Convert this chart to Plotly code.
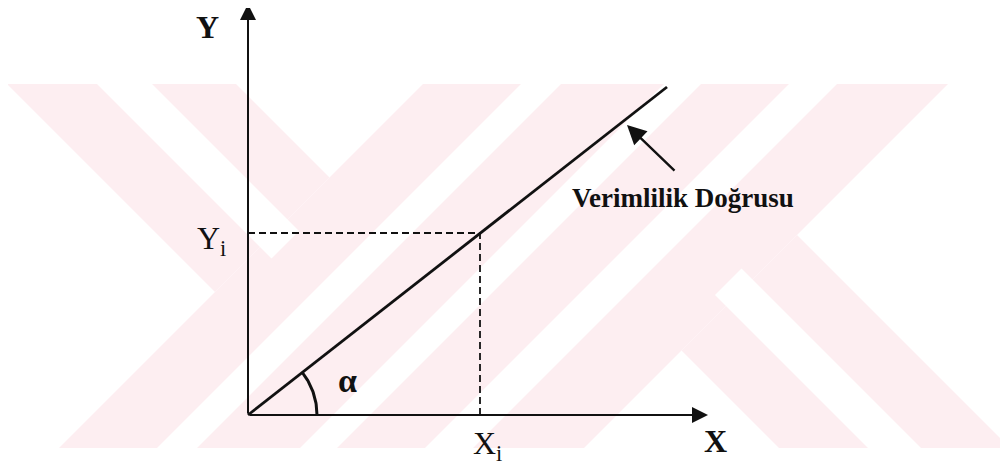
import math
import plotly.graph_objects as go

# ---- diagram values (conceptual units, origin of the axes at 0,0) ----
axis_x_end = 460          # length of the X axis arrow
axis_y_end = 411          # length of the Y axis arrow
line_x = [0, 419]         # productivity line
line_y = [0, 328]
x_i = 232                 # Xi on the X axis
y_i = 182                 # Yi on the Y axis
pointer_x = [428, 379]    # pointer arrow: tail -> head
pointer_y = [243, 290]
label_text = {"Y": "Y", "X": "X", "Yi": "Y<sub>i</sub>", "Xi": "X<sub>i</sub>",
              "alpha": "α", "line": "Verimlilik Doğrusu"}

# the page has an 8px body margin, so the figure starts at page pixel (8, 8)
PAGE_W, PAGE_H, BODY = 1008, 465, 8
W, H = PAGE_W - BODY, PAGE_H - BODY
OX, OY = 248, 415         # page pixel position of the origin


def to_data(px, py):
    return px - OX, OY - py


def path(points):
    pts = [to_data(px, py) for px, py in points]
    return "M " + " L ".join(f"{x:.1f},{y:.1f}" for x, y in pts) + " Z"


PINK = "#fdeef1"
WHITE = "#ffffff"
INK = "#111111"
shapes = []


def poly(points, color):
    shapes.append(dict(type="path", path=path(points), xref="x", yref="y",
                       fillcolor=color, line=dict(width=0), layer="below"))


TOP, BOT = 84, 448


def slash_band(u1, u2, color, y0=TOP - 40, y1=BOT + 40):
    poly([(u1 - y0, y0), (u2 - y0, y0), (u2 - y1, y1), (u1 - y1, y1)], color)


def back_band(v1, v2, ua, ub, color):
    # band between v1..v2 (v = x - y), limited by u = ua .. ub (u = x + y)
    def pt(u, v):
        return ((u + v) / 2, (u - v) / 2)
    poly([pt(ua, v1), pt(ua, v2), pt(ub, v2), pt(ub, v1)], color)


# watermark (pale logo)
slash_band(507, 1032, PINK)
back_band(-77, 152, 0, 507, PINK)
back_band(331, 562, 1032, 1700, PINK)
back_band(13, 68, 0, 530, WHITE)
back_band(420, 473, 1010, 1700, WHITE)
for u1, u2 in [(605, 645), (748, 785), (873, 921)]:
    slash_band(u1, u2, WHITE)
# clear outside the watermark band
poly([(-20, -20), (PAGE_W + 20, -20), (PAGE_W + 20, TOP), (-20, TOP)], WHITE)
poly([(-20, BOT), (PAGE_W + 20, BOT), (PAGE_W + 20, PAGE_H + 20), (-20, PAGE_H + 20)], WHITE)

fig = go.Figure()

# productivity line
fig.add_trace(go.Scatter(x=line_x, y=line_y, mode="lines",
                         line=dict(color=INK, width=2.8), hoverinfo="skip"))
# dashed guides
fig.add_trace(go.Scatter(x=[0, x_i, x_i], y=[y_i, y_i, 0], mode="lines",
                         line=dict(color=INK, width=1.8, dash="7px,4px"),
                         hoverinfo="skip"))
# angle arc
ang = math.atan2(line_y[1], line_x[1])
r = 69
arc_t = [ang * k / 30 for k in range(31)]
fig.add_trace(go.Scatter(x=[r * math.cos(t) for t in arc_t],
                         y=[r * math.sin(t) for t in arc_t], mode="lines",
                         line=dict(color=INK, width=3), hoverinfo="skip"))

annotations = []


def arrow(xs, ys, width=2.0):
    annotations.append(dict(x=xs[1], y=ys[1], ax=xs[0], ay=ys[0], xref="x", yref="y",
                            axref="x", ayref="y", text="", showarrow=True,
                            arrowhead=2, arrowsize=1.6, arrowwidth=width,
                            arrowcolor=INK, standoff=0, startstandoff=0))


arrow([0, axis_x_end], [0, 0])
arrow([0, 0], [0, axis_y_end])
arrow(pointer_x, pointer_y, width=2.4)


def label(txt, x, y, family, size, bold=False, xanchor="center"):
    annotations.append(dict(x=x, y=y, xref="x", yref="y",
                            text=(f"<b>{txt}</b>" if bold else txt),
                            showarrow=False, xanchor=xanchor, yanchor="middle",
                            font=dict(family=family, size=size, color=INK)))


label(label_text["Y"], -41, 388, "Liberation Serif", 32, bold=True)
label(label_text["X"], 467, -26, "Liberation Serif", 32, bold=True)
label(label_text["Yi"], -37, 175, "Liberation Serif", 32)
label(label_text["Xi"], 239, -30, "Liberation Serif", 32)
label(label_text["alpha"], 99, 35, "Liberation Serif", 34, bold=True)
label(label_text["line"], 435, 217, "Liberation Serif", 27, bold=True)

fig.update_layout(
    width=W, height=H, margin=dict(l=0, r=0, t=0, b=0),
    paper_bgcolor="white", plot_bgcolor="white", showlegend=False,
    xaxis=dict(range=[BODY - OX, PAGE_W - OX], visible=False, fixedrange=True),
    yaxis=dict(range=[OY - PAGE_H, OY - BODY], visible=False, fixedrange=True),
    shapes=shapes, annotations=annotations,
)

fig.write_html("out.html")
